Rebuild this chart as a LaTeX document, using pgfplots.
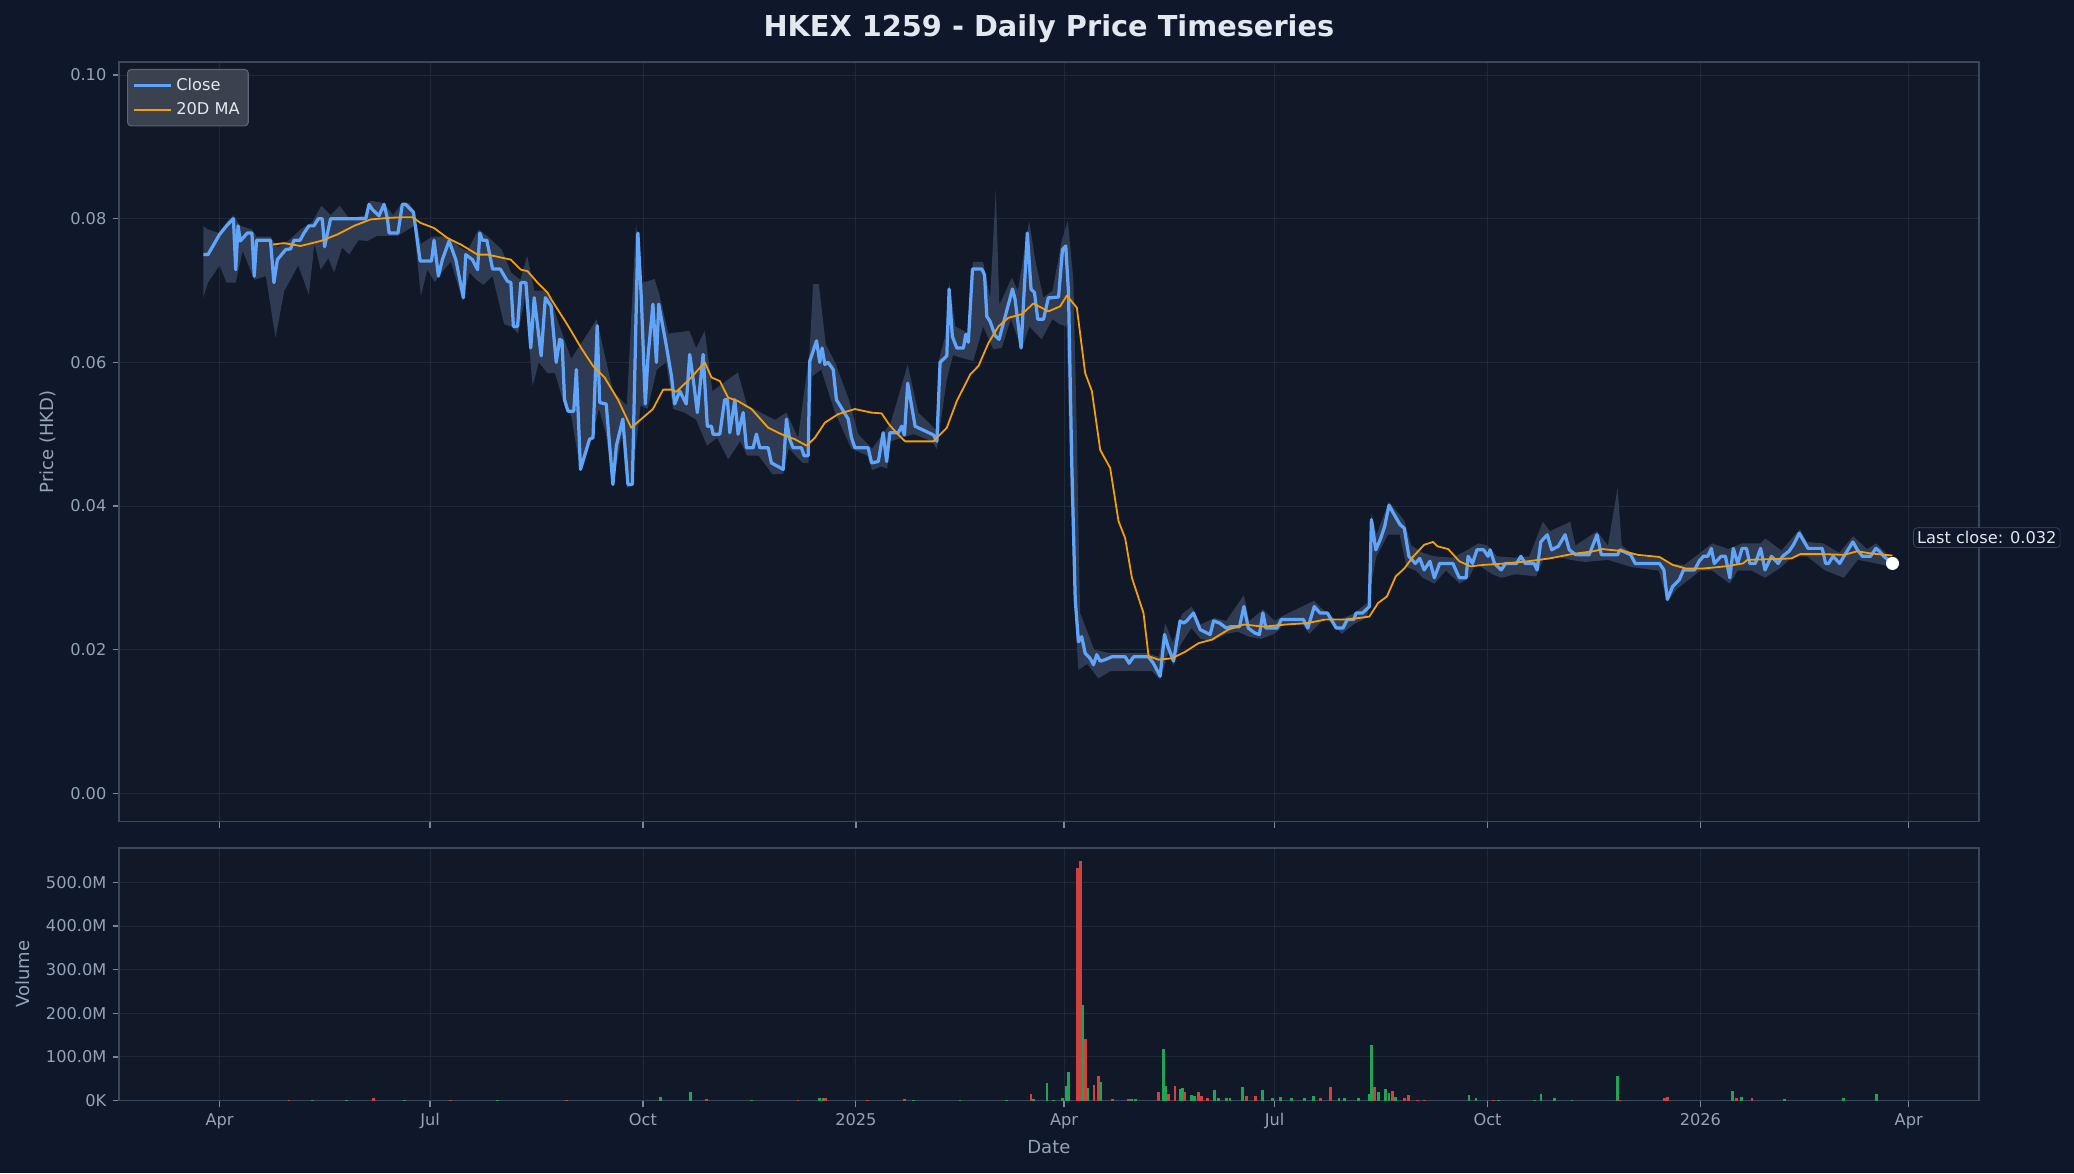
\documentclass[border=0pt]{standalone}
\usepackage{fontspec}
\setmainfont{DejaVu Sans}
\usepackage{pgfplots}
\pgfplotsset{compat=1.18}
\usepackage{pgfplotstable}
\definecolor{figbg}{HTML}{0F172A}
\definecolor{axbg}{HTML}{111827}
\definecolor{gridc}{HTML}{1E293B}
\definecolor{spine}{HTML}{3B475A}
\definecolor{tickc}{HTML}{7C8798}
\definecolor{labelc}{HTML}{94A3B8}
\definecolor{titlec}{HTML}{E2E8F0}
\definecolor{closec}{HTML}{60A5FA}
\definecolor{mac}{HTML}{F59E0B}
\definecolor{bandc}{HTML}{2E3B52}
\definecolor{greenc}{HTML}{22A355}
\definecolor{redc}{HTML}{D0423F}
\definecolor{legbg}{HTML}{3A424F}
\definecolor{legborder}{HTML}{5A6475}

\pgfplotstableread{
d p
-7 0.075
-5 0.075
0 0.0778
3 0.079
6 0.080
7 0.0729
8 0.079
9 0.0769
12 0.078
14 0.078
15 0.072
16 0.077
22 0.077
23.5 0.0711
25 0.0743
28.6 0.0757
30.7 0.0758
32.2 0.077
34.8 0.077
36.5 0.078
38.6 0.079
40.8 0.079
42.7 0.080
44.4 0.080
45.4 0.0761
48 0.080
63.2 0.080
64.6 0.082
66 0.0813
68.9 0.0804
71.1 0.082
72.5 0.0801
73.3 0.078
77.1 0.078
79 0.082
80.4 0.082
83.8 0.0809
86.7 0.0741
91.6 0.0741
92.7 0.077
94.6 0.072
96.3 0.0743
99.2 0.0769
102.1 0.0743
105.4 0.069
106.4 0.075
109.3 0.0743
111.5 0.0729
112.5 0.078
113.6 0.077
115.5 0.077
118 0.073
121.3 0.073
124.4 0.0713
125.9 0.0711
127 0.065
128.8 0.065
130.2 0.0711
132.4 0.0711
134.5 0.062
136 0.069
139 0.0609
140.8 0.069
143.3 0.0678
145.5 0.060
147 0.0632
148 0.063
149.1 0.0548
150.6 0.0532
153.1 0.0532
154.2 0.059
156 0.0451
159.9 0.0493
161.4 0.0495
163.2 0.0651
164.3 0.0544
167.1 0.0542
170 0.043
171.5 0.0484
174.3 0.0521
176.5 0.043
178.4 0.043
180.8 0.078
182.3 0.0688
184 0.0542
185.2 0.0609
187.3 0.0681
188.8 0.060
189.8 0.0681
193.1 0.0623
195.3 0.0581
196.7 0.0542
198.9 0.056
201.7 0.0542
203.2 0.0611
204.6 0.0579
206.5 0.053
209 0.0611
210.8 0.0511
212.6 0.0511
213.3 0.050
216.2 0.050
218.3 0.0548
219.5 0.0548
220.5 0.0502
222.7 0.0548
224.1 0.050
226.3 0.053
227.7 0.0481
230.6 0.0481
232 0.050
233.5 0.0481
237.1 0.0481
238.5 0.046
243.6 0.0451
245 0.0521
246.4 0.0493
247.9 0.0481
251.5 0.0481
252.6 0.047
254.4 0.047
255.1 0.0602
258 0.063
259.4 0.060
260.4 0.062
261.6 0.0597
263 0.060
265.2 0.059
266.6 0.0548
271.7 0.0521
273.1 0.0495
274.6 0.0481
280.3 0.0481
281.8 0.046
284.7 0.0462
286.8 0.0502
288.3 0.0462
289.7 0.0502
293.3 0.0502
294.8 0.0511
296 0.0499
297.4 0.0571
300.6 0.0511
308.5 0.0499
310 0.049
311.4 0.060
314.3 0.0609
315.3 0.0702
316.7 0.0636
318.6 0.062
321.5 0.062
322.5 0.0639
323.6 0.0628
325.4 0.073
329.4 0.073
330.6 0.0722
331.6 0.0664
333 0.0657
335.2 0.0637
336.9 0.0632
338.8 0.0655
342.7 0.0702
343.8 0.0688
346.4 0.062
349.1 0.078
350.7 0.0702
352.2 0.0697
353.6 0.066
356.1 0.066
358.2 0.069
359.7 0.069
362.6 0.0691
364.3 0.0757
365.7 0.0762
366.9 0.0697
368.3 0.046
369.8 0.027
371.2 0.0211
372.6 0.0218
374.1 0.0195
376.2 0.0188
377.7 0.0179
379.1 0.0193
380.6 0.0184
382.7 0.0186
385.6 0.019
391.4 0.019
393.1 0.0181
395 0.019
401.5 0.019
403.6 0.0181
406.5 0.0163
408.4 0.0221
409.9 0.0204
412.3 0.0184
415.1 0.024
416.6 0.0237
418 0.024
420.9 0.0251
423.8 0.0228
428.1 0.0221
429.6 0.024
432.2 0.0237
435.1 0.023
437 0.0232
440.8 0.0232
442.7 0.026
444.6 0.023
447.5 0.0223
449.4 0.0221
450.9 0.0251
452.2 0.023
457 0.023
458.9 0.0242
468.4 0.0242
470.3 0.023
473.1 0.026
475.6 0.0251
478.8 0.0251
482.6 0.023
485.5 0.023
487.4 0.0242
490.2 0.0242
491.2 0.0251
494 0.0251
496.9 0.026
497.8 0.0381
499.7 0.0339
501.6 0.0353
503.5 0.0371
505.4 0.0401
507.3 0.039
510.2 0.0374
512 0.0369
514 0.033
516.8 0.032
518.7 0.0327
520.6 0.0311
523.1 0.0323
525 0.030
527.3 0.032
533 0.032
535.8 0.030
538.7 0.030
539.6 0.033
541.5 0.032
543.4 0.0339
546.3 0.0339
548.2 0.033
549.1 0.0339
551 0.032
553.9 0.0311
555.8 0.032
560.5 0.032
562.4 0.033
564.3 0.032
568.1 0.032
569.4 0.0311
571 0.035
573.8 0.036
575.7 0.0339
578.6 0.0344
581.5 0.036
583.3 0.0339
586.2 0.0332
591.9 0.0332
595.3 0.036
597.2 0.0332
604.2 0.0332
605.2 0.0339
609.9 0.0332
611.8 0.032
622.3 0.032
624.2 0.0311
625.7 0.027
628 0.0288
630.8 0.0297
632.7 0.0311
637.5 0.0311
639.4 0.0323
641.3 0.033
643.2 0.033
644.7 0.0341
646 0.032
648.9 0.033
650.8 0.033
652.7 0.030
654.2 0.0341
656.1 0.032
658 0.0341
659.9 0.0341
661.3 0.032
663.7 0.032
666 0.0341
667.9 0.0311
670.7 0.033
673.6 0.032
675.5 0.033
678.3 0.0337
680.2 0.0346
682.7 0.0362
686.5 0.0341
692.6 0.0341
694.1 0.032
695.4 0.032
697.3 0.033
700.2 0.032
702 0.033
705.9 0.035
707.8 0.0339
710 0.033
713.5 0.033
715.8 0.0341
717.3 0.0337
719.2 0.033
723 0.032
}\closetab

\pgfplotstableread{
d p
23 0.0764
27.8 0.0766
35 0.0762
43.7 0.0769
50.9 0.0778
58.1 0.079
65.3 0.0799
72.5 0.0801
79 0.0802
83.3 0.0802
87 0.0794
92.7 0.0787
98.5 0.0773
104.3 0.0764
111.5 0.075
115.8 0.075
125.9 0.0743
130.2 0.0729
133.1 0.0727
137.4 0.0711
141.8 0.0697
143.3 0.0688
150.6 0.0651
156.3 0.062
161.4 0.0595
166.4 0.0579
172.2 0.0548
177.9 0.0509
183.7 0.0525
187.3 0.0535
191.7 0.0562
195.3 0.0562
197.4 0.0559
203.9 0.0579
209.7 0.060
212.6 0.0579
216.2 0.0574
219.8 0.0551
224.1 0.0546
229.9 0.0535
237.1 0.0509
242.8 0.050
248.6 0.0493
253.7 0.0484
257.3 0.0495
261.6 0.0516
267.4 0.0528
274.6 0.0535
281.8 0.053
286.1 0.0529
289.5 0.0513
293.4 0.0499
296.3 0.049
308.5 0.049
314.3 0.0509
318.6 0.0546
324.4 0.0583
328 0.0595
332.3 0.0627
336.6 0.065
340.9 0.0662
346.7 0.0667
351.7 0.0682
358.2 0.0671
363.3 0.0678
366.2 0.0693
370.5 0.0676
374.1 0.0585
377 0.056
380.6 0.0478
384.9 0.0453
388.5 0.0379
391.4 0.0355
394.3 0.030
399.3 0.0251
401.5 0.0191
405.8 0.0186
411.6 0.0188
417.3 0.0197
423.1 0.0209
428.9 0.0214
436 0.0228
442.7 0.0235
451.3 0.0232
460.8 0.0235
470.3 0.0237
477.9 0.0242
487.4 0.0242
496.9 0.0246
500.7 0.0265
504.5 0.0274
508.3 0.0302
512 0.0313
516 0.033
520.6 0.0346
524.4 0.035
526.3 0.0344
531 0.034
535.8 0.0323
540.6 0.0316
546.3 0.0318
555.8 0.032
565.3 0.0323
574.8 0.0327
584.3 0.0333
593.8 0.0337
597.6 0.034
607.1 0.0337
612.8 0.0332
622.3 0.0329
628 0.0318
633.7 0.0313
641.3 0.0313
650.8 0.0316
658.4 0.032
660.3 0.0325
669.8 0.0326
679.3 0.0327
683.1 0.0333
692.6 0.0333
702.1 0.0332
707.8 0.0337
713.5 0.0334
723 0.0331
}\matab

% high envelope (forward in time) followed by low envelope (backward in time)
\pgfplotstableread{
d p
-7 0.079
-5 0.0785
0 0.078
3 0.0795
6 0.0805
9 0.079
14 0.0785
16 0.0775
22 0.0775
25 0.076
30 0.077
35 0.0785
40 0.0795
44 0.0818
48 0.0805
52 0.0818
56 0.080
63 0.0805
65 0.0825
71 0.0822
75 0.0805
79 0.0822
82 0.0822
84 0.081
87 0.0765
92 0.0775
99 0.0775
104 0.0760
107 0.0755
112 0.0785
116 0.0775
122 0.0757
126 0.0725
130 0.0715
133 0.0748
136 0.070
141 0.0700
143 0.069
147 0.065
152 0.0605
163 0.0660
170 0.0560
176 0.0540
180 0.0795
182 0.071
188 0.0716
190 0.0695
194 0.0640
203 0.0644
206 0.062
209.7 0.0644
213 0.0560
224 0.0586
228 0.0540
240 0.0520
245 0.0530
250 0.0495
255 0.0615
256.5 0.0709
259 0.0709
262 0.0625
266 0.0600
272 0.0548
276 0.050
282 0.048
290 0.0515
297.4 0.0597
302 0.053
310 0.0505
311 0.0605
313.6 0.0636
315.3 0.0712
318 0.065
324 0.064
325.5 0.0740
330 0.0740
333 0.069
335.5 0.0841
337 0.068
342.4 0.0718
345 0.070
349.9 0.0797
352.5 0.0743
356 0.0690
360 0.0700
364 0.0770
366.6 0.0797
369 0.0715
370.5 0.050
371.9 0.0251
378 0.0200
385 0.0195
401 0.0195
406 0.019
408.7 0.0237
412 0.021
416 0.0250
420.2 0.0260
424 0.0235
430 0.0244
435 0.0240
442.7 0.0276
445 0.0240
451 0.0256
456 0.0240
460 0.0248
473 0.0268
476 0.0258
483 0.0240
490 0.0250
496 0.0265
497.8 0.0390
500 0.036
505.4 0.0406
512 0.0380
515 0.0345
520 0.0335
525 0.033
533 0.0328
540 0.0340
544 0.0348
548 0.0345
552 0.0330
560 0.0328
566 0.0330
571.9 0.0378
575 0.0365
583.7 0.0378
586 0.0345
595.3 0.0365
600 0.0345
604.2 0.0425
606 0.0345
612 0.0330
622 0.0328
626 0.0320
633 0.0318
640 0.0335
645 0.0348
652 0.0340
658 0.0348
666 0.0348
668 0.0355
675 0.0338
683 0.0368
686 0.0350
693 0.0348
700 0.0335
706 0.0358
712 0.0340
716 0.0348
723 0.0325
723 0.0315
716 0.0320
708 0.0325
702 0.0300
694 0.0310
686 0.0330
680 0.0330
675 0.0315
668 0.0300
662 0.0310
656 0.0310
652.7 0.0292
645 0.0310
640 0.0310
636 0.0300
630 0.0285
625.7 0.0267
622 0.0310
610 0.0315
600 0.0325
590 0.0322
584 0.0325
578 0.0330
572 0.0325
569 0.0302
560 0.0305
554 0.0300
550 0.0305
543 0.0320
540 0.0300
536 0.0292
530 0.0310
525 0.0292
520 0.0300
517 0.0310
513 0.0315
510 0.0360
505 0.0360
500 0.0330
497.8 0.0293
496 0.0245
490 0.0235
485 0.0222
478 0.0245
471 0.0222
468 0.0235
460 0.0235
456 0.0222
450 0.0215
445 0.0218
440 0.0225
435 0.0222
429 0.0212
424 0.0215
420 0.0230
415 0.0205
412.3 0.0178
410 0.0195
406.5 0.0158
403 0.0170
395 0.0170
385 0.0170
379.8 0.0160
375 0.0180
371.2 0.0172
369.8 0.0240
368 0.0400
366 0.0650
363 0.0653
360 0.0660
355.3 0.0632
350 0.0650
346.7 0.0618
342 0.0660
338 0.0620
334.4 0.0618
330 0.0650
325.8 0.0602
322 0.0605
317 0.0610
314.3 0.0576
310 0.0479
308 0.0490
300 0.0500
295 0.0495
290 0.0490
288.5 0.0452
286 0.0455
282 0.0450
280 0.0470
273 0.0480
266 0.0530
260 0.0590
256 0.0580
254.5 0.0460
252 0.0460
246 0.0480
243.6 0.0445
239 0.0444
233 0.0470
228 0.0470
225 0.0490
219.8 0.0465
215 0.0495
210.7 0.0484
206 0.0520
201 0.0530
196 0.0535
193 0.0600
189 0.0590
185 0.0535
182 0.0540
178 0.0428
176 0.0425
174 0.0500
170 0.0430
167 0.0500
164 0.0535
160 0.0485
156 0.0449
152 0.0525
149 0.0540
145 0.0585
141.7 0.0585
138 0.0600
135.3 0.0567
132 0.0690
129 0.0640
126 0.0650
123 0.0653
118 0.0720
114 0.0708
111 0.0715
108 0.0725
105 0.0685
104 0.0697
100 0.0740
96 0.0725
93 0.0712
89.8 0.0729
87 0.0692
84 0.0790
77 0.0776
68 0.0776
64 0.0769
60 0.0770
56 0.0750
53 0.0760
49.5 0.0725
47 0.0745
43.7 0.0729
41 0.0765
38.6 0.0694
34 0.0735
30.7 0.0715
28 0.0700
24.2 0.0634
20 0.0720
15 0.0715
10 0.0755
7 0.0711
3 0.0711
0 0.0735
-5 0.0711
-7 0.0690
}\bandtab

\pgfplotstableread{
d v
40 1
55 1
80 1
120 1
190.7 8.4
203.7 19.8
230 1
259.2 6
261 5
300 1
320 1.5
340 1
351.6 4
357.6 40
360.3 2
364.4 5
366 33
366.8 66
372.9 218
375 28
380.9 42
394.2 4
396 4
407.9 118
408.9 33
415.1 26
416.1 28
420.1 13
421.3 10
429.9 25
431.7 6
435 7
436.7 6
442 30
450.7 24
455.1 5
458.7 8
463.1 5
469 5
472.9 10
483.8 7
486.2 5
492.1 7
497.1 16
498 127
501 20
504 27
505.4 18
508.4 8
540 12
543 6
552.8 2
568.2 2
571.1 14.5
577.1 6
584.5 2
604.3 56
654 22
657.9 8
676.2 4
702 6
716.2 14.5
}\volg

\pgfplotstableread{
d v
30 1
66.6 6.5
100 1
150 1
210.4 3
250 1
262 6
280 1
296 3
350.7 15
370.7 533
372 548
374.2 141
377.9 35
379.9 56
385.8 4
392.8 4
405.9 19
410 16
412.9 33
417.2 19
423 20
424.2 10
426.9 7
443.9 11
447.8 10
475.8 5
480 31
499.2 31
506.9 22
512 5
514 12
517.9 2
520.8 2
550.4 2
605.2 2
624.4 6
625.9 8
655.5 6
662.3 6
}\volr

\pgfplotsset{darkax/.style={
  scale only axis, width=1033pt,
  xmin=-43.45, xmax=760.3,
  axis background/.style={fill=axbg},
  axis line style={draw=spine, line width=0.8pt},
  grid=major, major grid style={draw=gridc, line width=0.5pt},
  tick align=outside, tick pos=left, major tick length=3.5pt,
  tick style={draw=tickc, line width=0.7pt},
  tick label style={font=\fontsize{9}{10}\selectfont, text=labelc},
  xtick={0,91,183,275,365,456,548,640,730},
  /pgf/number format/assume math mode=true,
}}

\begin{document}
\begin{tikzpicture}
\fill[figbg] (0,0) rectangle (1152pt,651.7pt);
\path[use as bounding box] (0,0) rectangle (1152pt,651.7pt);

\node[font=\bfseries\fontsize{16}{19}\selectfont, text=titlec] at (582.6pt,635.6pt) {HKEX 1259 - Daily Price Timeseries};
\node[rotate=90, font=\fontsize{10}{12}\selectfont, text=labelc] at (26.4pt,406.3pt) {Price (HKD)};
\node[rotate=90, font=\fontsize{10}{12}\selectfont, text=labelc] at (12.5pt,110.6pt) {Volume};
\node[font=\fontsize{10}{12}\selectfont, text=labelc] at (582.6pt,14.6pt) {Date};

\begin{axis}[darkax,
  at={(66.1pt,195.5pt)}, anchor=south west, height=421.7pt,
  ymin=-0.0039, ymax=0.1018,
  ytick={0,0.02,0.04,0.06,0.08,0.10},
  yticklabels={0.00,0.02,0.04,0.06,0.08,0.10},
  xticklabels={,,,,,,,,},
  legend cell align=left,
  legend image code/.code={\draw[#1] (0pt,0pt) -- (20.5pt,0pt);},
  legend style={at={(0.0043,0.991)}, anchor=north west, fill=legbg, draw=legborder,
    rounded corners=2pt, text=titlec, font=\fontsize{9}{11}\selectfont,
    inner sep=2.8pt, row sep=1.2pt, line width=0.6pt,
    /tikz/every even column/.append style={column sep=5.5pt}},
]
\addplot[fill=bandc, draw=none, forget plot] table[x=d,y=p] {\bandtab};
\addplot[closec, line width=1.8pt, line join=round] table[x=d,y=p] {\closetab};
\addlegendentry{Close}
\addplot[mac, line width=1pt, line join=round] table[x=d,y=p] {\matab};
\addlegendentry{20D MA}
\addplot[only marks, mark=*, mark size=3.4pt, draw=white, fill=white, forget plot] coordinates {(723,0.032)};
\coordinate (lastpt) at (axis cs:723,0.032);
\end{axis}
\node[anchor=west, fill=figbg, draw=spine, rounded corners=2pt, inner sep=2pt,
  font=\fontsize{9}{10}\selectfont, text=titlec, xshift=11.5pt, yshift=14.3pt]
  at (lastpt) {Last close: 0.032};

\begin{axis}[darkax,
  at={(66.1pt,40.4pt)}, anchor=south west, height=140.3pt,
  ymin=0, ymax=578.8,
  ytick={0,100,200,300,400,500},
  yticklabels={0K,100.0M,200.0M,300.0M,400.0M,500.0M},
  xticklabels={Apr,Jul,Oct,2025,Apr,Jul,Oct,2026,Apr},
]
\addplot[ycomb, draw=greenc, line width=1.6pt, mark=none] table[x=d,y=v] {\volg};
\addplot[ycomb, draw=redc, line width=1.6pt, mark=none] table[x=d,y=v] {\volr};
\end{axis}
\end{tikzpicture}
\end{document}
